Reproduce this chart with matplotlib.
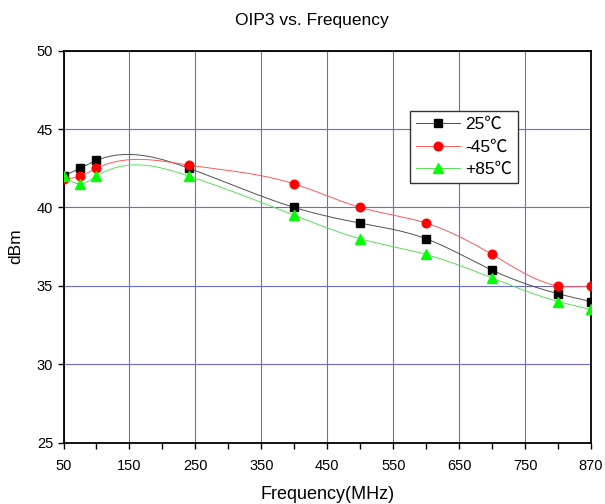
import numpy as np
import matplotlib
matplotlib.use('Agg')
import matplotlib.pyplot as plt

plt.rcParams['font.family'] = ['Liberation Sans', 'DejaVu Sans']

# frequency positions as plotted (last point sits on the "870" tick)
freq = [50, 75, 100, 240, 400, 500, 600, 700, 800, 850]
oip3_25 = [42.0, 42.5, 43.0, 42.5, 40.0, 39.0, 38.0, 36.0, 34.5, 34.0]
oip3_m45 = [41.8, 42.0, 42.5, 42.7, 41.5, 40.0, 39.0, 37.0, 35.0, 35.0]
oip3_85 = [42.0, 41.5, 42.0, 42.0, 39.5, 38.0, 37.0, 35.5, 34.0, 33.5]

xticks = [50, 150, 250, 350, 450, 550, 650, 750, 850]
xticklabels = ['50', '150', '250', '350', '450', '550', '650', '750', '870']
yticks = [25, 30, 35, 40, 45, 50]


def natural_spline(x, y, n=400):
    # natural cubic spline, just for drawing the smooth connecting line
    x = np.asarray(x, float)
    y = np.asarray(y, float)
    k = len(x)
    h = np.diff(x)
    A = np.zeros((k, k))
    r = np.zeros(k)
    A[0, 0] = A[-1, -1] = 1
    for i in range(1, k - 1):
        A[i, i - 1] = h[i - 1]
        A[i, i] = 2 * (h[i - 1] + h[i])
        A[i, i + 1] = h[i]
        r[i] = 6 * ((y[i + 1] - y[i]) / h[i] - (y[i] - y[i - 1]) / h[i - 1])
    m = np.linalg.solve(A, r)
    xs = np.linspace(x[0], x[-1], n)
    j = np.clip(np.searchsorted(x, xs) - 1, 0, k - 2)
    t0 = x[j + 1] - xs
    t1 = xs - x[j]
    hj = h[j]
    ys = (m[j] * t0**3 + m[j + 1] * t1**3) / (6 * hj) \
        + (y[j] / hj - m[j] * hj / 6) * t0 + (y[j + 1] / hj - m[j + 1] * hj / 6) * t1
    return xs, ys


fig = plt.figure(figsize=(6.05, 5.04), dpi=100)
ax = fig.add_axes([0.105, 0.1216, 0.872, 0.778])

series = [(oip3_25, 'black', '#505050', 's', 5.3, '25\u2103'),
          (oip3_m45, 'red', '#ff5a5a', 'o', 6.2, '-45\u2103'),
          (oip3_85, '#00ff00', '#5ae05a', '^', 7.0, '+85\u2103')]

for vals, mc, lc, mk, ms, lab in series:
    xs, ys = natural_spline(freq, vals)
    ax.plot(xs, ys, color=lc, lw=0.7, zorder=3)
    ax.plot(freq, vals, ls='none', marker=mk, ms=ms, color=mc, mec=mc, zorder=4)
    ax.plot([], [], color=lc, lw=0.7, marker=mk, ms=ms, mfc=mc, mec=mc, label=lab)

ax.set_xlim(50, 850)
ax.set_ylim(25, 50)
ax.set_xticks(xticks)
ax.set_xticklabels(xticklabels)
ax.set_xticks([100, 200, 300, 400, 500, 600, 700, 800], minor=True)
ax.set_yticks(yticks)
ax.tick_params(axis='both', which='both', direction='out', length=4, width=1.0,
               labelsize=10.5, top=False, right=False)
ax.tick_params(axis='x', pad=8)

ax.grid(True, which='major', color='#6a6ad2', lw=0.8)
ax.set_axisbelow(True)
for s in ax.spines.values():
    s.set_linewidth(1.3)

ax.set_xlabel('Frequency(MHz)', fontsize=13, labelpad=9)
ax.set_ylabel('dBm', fontsize=12.5, labelpad=10)
fig.text(0.516, 0.96, 'OIP3 vs. Frequency', fontsize=12.5, ha='center', va='center')

leg = ax.legend(loc='upper left', bbox_to_anchor=(0.657, 0.846), borderaxespad=0,
                prop={'family': ['Liberation Sans', 'Noto Sans CJK SC', 'DejaVu Sans'],
                      'size': 12.5},
                fancybox=False, framealpha=1, edgecolor='#333333',
                handlelength=2.5, handletextpad=0.3, borderpad=0.35,
                labelspacing=0.42)
leg.get_frame().set_linewidth(1.0)

fig.savefig('out.png', dpi=100)
